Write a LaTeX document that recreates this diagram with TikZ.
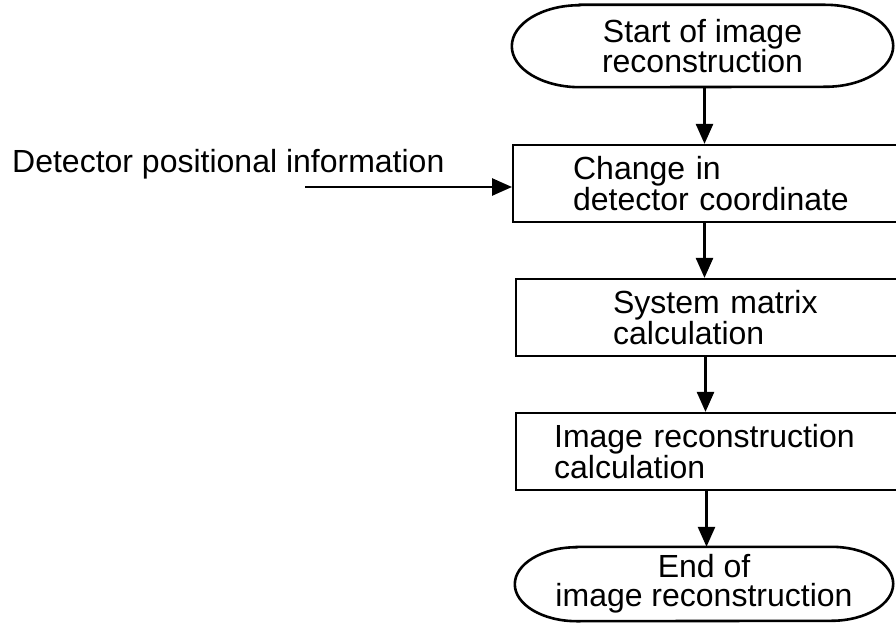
\documentclass[tikz,border=0pt]{standalone}
\usepackage{fontspec}
\setmainfont{Liberation Sans}
\usetikzlibrary{arrows.meta}
\begin{document}
\begin{tikzpicture}[x=1pt,y=1pt,
  txt/.style={font=\fontsize{32}{26}\selectfont},
  box/.style={txt, draw, line width=2.2pt, anchor=west, minimum height=77pt,
    align=left, inner ysep=0pt, text width=330pt},
  term/.style={txt, align=center, inner sep=0pt},
  link/.style={line width=2.6pt, -{Triangle[length=20pt,width=17pt]}},
  outline/.style={line width=2.6pt}
]
\useasboundingbox (0,0) rectangle (896,622);
\clip (0,0) rectangle (896,622);

% start terminal
\node[term, minimum width=381pt, minimum height=82pt, font=\fontsize{32}{29}\selectfont] (start) at (702.5,576) {Start of image\\reconstruction};
\draw[outline] ([xshift=68pt]start.north west) -- ([xshift=-68pt]start.north east)
  arc[start angle=90, end angle=-90, x radius=68pt, y radius=41pt]
  -- ([xshift=68pt]start.south west)
  arc[start angle=270, end angle=90, x radius=68pt, y radius=41pt] -- cycle;

% process boxes
\node[box, inner xsep=60pt] (change) at (512,438.5) {Change in\\detector coordinate};
\node[box, inner xsep=97pt] (sysmat) at (515,304.5) {System matrix\\calculation};
\node[box, inner xsep=38pt] (recon) at (515,170.5) {Image reconstruction\\calculation};

% end terminal
\node[term, minimum width=378pt, minimum height=74pt, font=\fontsize{32}{29}\selectfont] (end) at (704,38) {End of\\image reconstruction};
\draw[outline] ([xshift=62pt]end.north west) -- ([xshift=-62pt]end.north east)
  arc[start angle=90, end angle=-90, x radius=62pt, y radius=37pt]
  -- ([xshift=62pt]end.south west)
  arc[start angle=270, end angle=90, x radius=62pt, y radius=37pt] -- cycle;

% side input
\node[txt, anchor=base west, inner sep=0pt] (info) at (12,449) {Detector positional information};
\coordinate (src) at (305,435);
\draw[link] (src) -- (src -| change.west);

% flow arrows
\draw[link] ([xshift=2pt]start.south) -- ([xshift=2pt]start.south |- change.north);
\draw[link] ([xshift=2pt]start.south |- change.south) -- ([xshift=2pt]start.south |- sysmat.north);
\draw[link] ([xshift=3pt]start.south |- sysmat.south) -- ([xshift=3pt]start.south |- recon.north);
\draw[link] ([xshift=4pt]start.south |- recon.south) -- ([xshift=4pt]start.south |- end.north);
\end{tikzpicture}
\end{document}
